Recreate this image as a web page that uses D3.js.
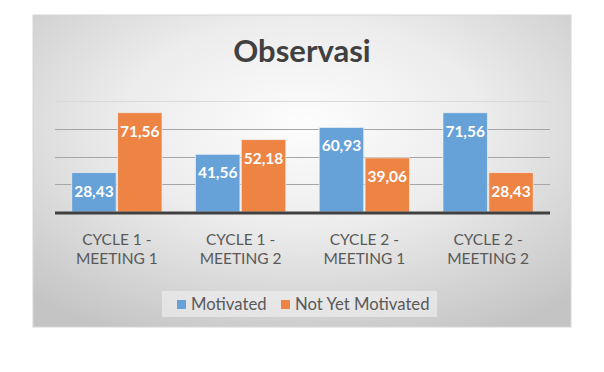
<!DOCTYPE html>
<html>
<head>
<meta charset="utf-8">
<script src="https://cdn.jsdelivr.net/npm/d3@7"></script>
<style>
  body { margin: 0; background: #fff; }
  svg text { font-family: Lato, "Open Sans", sans-serif; }
</style>
</head>
<body>
<div id="chart"></div>
<script>
// chart data
var categories = [["CYCLE 1 -", "MEETING 1"], ["CYCLE 1 -", "MEETING 2"], ["CYCLE 2 -", "MEETING 1"], ["CYCLE 2 -", "MEETING 2"]];
var seriesNames = ["Motivated", "Not Yet Motivated"];
var motivated = [28.43, 41.56, 60.93, 71.56];
var notYetMotivated = [71.56, 52.18, 39.06, 28.43];
var gridTicks = [20, 40, 60, 80];

var colors = ["#66a1d8", "#ee8444"];

var W = 604, H = 372;
var box = { x: 33, y: 15, w: 538, h: 312 };
var plot = { left: 55, right: 550, top: 101, bottom: 212 };

var svg = d3.select("#chart").append("svg")
  .attr("width", W)
  .attr("height", H);

var defs = svg.append("defs");
var grad = defs.append("radialGradient")
  .attr("id", "bg")
  .attr("cx", "50%").attr("cy", "35%")
  .attr("r", "75%");
grad.append("stop").attr("offset", "0%").attr("stop-color", "#fdfdfd");
grad.append("stop").attr("offset", "45%").attr("stop-color", "#ececec");
grad.append("stop").attr("offset", "100%").attr("stop-color", "#c4c4c4");

svg.append("rect")
  .attr("x", box.x).attr("y", box.y)
  .attr("width", box.w).attr("height", box.h)
  .attr("fill", "url(#bg)")
  .attr("stroke", "#d6d6d6")
  .attr("stroke-width", 1);

// title
svg.append("text")
  .attr("x", box.x + box.w / 2)
  .attr("y", 62)
  .attr("text-anchor", "middle")
  .attr("font-family", "'Open Sans', sans-serif")
  .attr("font-size", "31px")
  .attr("font-weight", "bold")
  .attr("fill", "#404040")
  .text("Observasi");

var x = d3.scaleBand()
  .domain(d3.range(categories.length))
  .range([plot.left, plot.right])
  .paddingInner(0.27)
  .paddingOuter(0.135);

var xs = d3.scaleBand()
  .domain([0, 1])
  .range([0, x.bandwidth()])
  .paddingInner(0.03);

var y = d3.scaleLinear()
  .domain([0, 80])
  .range([plot.bottom, plot.top]);

// gridlines
svg.append("g")
  .selectAll("line")
  .data(gridTicks)
  .join("line")
  .attr("x1", plot.left).attr("x2", plot.right)
  .attr("y1", d => Math.round(y(d)) + 0.5)
  .attr("y2", d => Math.round(y(d)) + 0.5)
  .attr("stroke", (d, i) => i == gridTicks.length - 1 ? "#d9d9d9" : "#a6a6a6")
  .attr("stroke-width", 1.2);

var rows = [];
categories.forEach(function (c, i) {
  rows.push({ cat: i, s: 0, v: motivated[i] });
  rows.push({ cat: i, s: 1, v: notYetMotivated[i] });
});

var bars = svg.append("g");
bars.selectAll("rect")
  .data(rows)
  .join("rect")
  .attr("x", d => x(d.cat) + xs(d.s))
  .attr("y", d => y(d.v))
  .attr("width", xs.bandwidth())
  .attr("height", d => plot.bottom - y(d.v))
  .attr("fill", d => colors[d.s])
  .attr("stroke", "#f2f2f2")
  .attr("stroke-opacity", 0.7)
  .attr("stroke-width", 1);

bars.selectAll("text")
  .data(rows)
  .join("text")
  .attr("x", d => x(d.cat) + xs(d.s) + xs.bandwidth() / 2)
  .attr("y", d => y(d.v) + 24)
  .attr("text-anchor", "middle")
  .attr("font-size", "15.5px")
  .attr("font-weight", "bold")
  .attr("fill", "#fff")
  .text(d => d.v.toFixed(2).replace(".", ","));

// axis baseline
svg.append("line")
  .attr("x1", plot.left).attr("x2", plot.right)
  .attr("y1", plot.bottom + 1).attr("y2", plot.bottom + 1)
  .attr("stroke", "#404040")
  .attr("stroke-width", 3);

// category labels
var cl = svg.append("g").selectAll("text")
  .data(categories)
  .join("text")
  .attr("text-anchor", "middle")
  .attr("font-size", "15.5px")
  .attr("fill", "#595959");
cl.append("tspan")
  .attr("x", (d, i) => x(i) + x.bandwidth() / 2)
  .attr("y", 245)
  .text(d => d[0]);
cl.append("tspan")
  .attr("x", (d, i) => x(i) + x.bandwidth() / 2)
  .attr("y", 264)
  .text(d => d[1]);

// legend
var lg = svg.append("g");
lg.append("rect")
  .attr("x", 162).attr("y", 291)
  .attr("width", 275).attr("height", 26)
  .attr("fill", "#f2f2f2")
  .attr("opacity", 0.6);

var lx = [177, 281];
seriesNames.forEach(function (n, i) {
  lg.append("rect")
    .attr("x", lx[i]).attr("y", 300)
    .attr("width", 9).attr("height", 9)
    .attr("fill", colors[i]);
  lg.append("text")
    .attr("x", lx[i] + 14).attr("y", 309.5)
    .attr("font-size", "16.7px")
    .attr("fill", "#595959")
    .text(n);
});
</script>
</body>
</html>
